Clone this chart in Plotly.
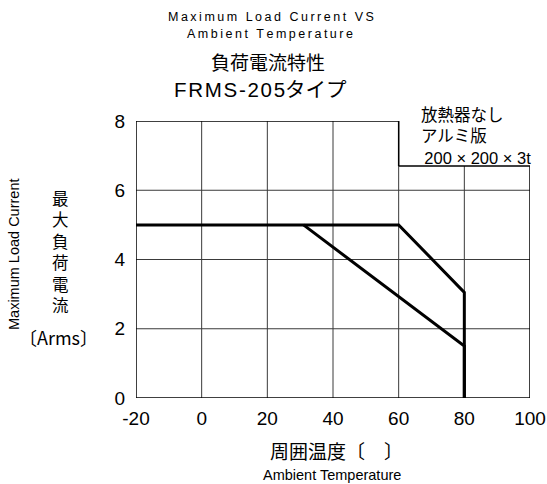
import plotly.graph_objects as go

# ---- data ----
temp_upper = [-20, 60, 80, 80]
load_upper = [5, 5, 3.05, 0]
temp_lower = [31, 80, 80]
load_lower = [5, 1.5, 0]

x_ticks = [-20, 0, 20, 40, 60, 80, 100]
y_ticks = [0, 2, 4, 6, 8]
x_tick_labels = ["-20", "0", "20", "40", "60", "80", "100"]
y_tick_labels = ["0", "2", "4", "6", "8"]

# panel notch (upper-right area of the chart frame is lower)
notch_x = 60
notch_y = 6.7

W, H = 547, 484
L, R, T, B = 136, 17, 121, 86
PW, PH = W - L - R, H - T - B

LAT = "Liberation Sans, Arial, Noto Sans CJK JP, sans-serif"
CJK = "Noto Sans CJK JP, Liberation Sans, sans-serif"


def px(xp):
    return (xp - L) / PW


def py(yp):
    return (H - B - yp) / PH


def spaced(s, sep="\u2009"):
    return sep.join(list(s))


fig = go.Figure()
fig.add_trace(go.Scatter(x=temp_upper, y=load_upper, mode="lines",
                         line=dict(color="black", width=3), cliponaxis=False,
                         showlegend=False, hoverinfo="skip"))
fig.add_trace(go.Scatter(x=temp_lower, y=load_lower, mode="lines",
                         line=dict(color="black", width=3), cliponaxis=False,
                         showlegend=False, hoverinfo="skip"))

shapes = []
xmin, xmax = x_ticks[0], x_ticks[-1]
ymin, ymax = y_ticks[0], y_ticks[-1]
grid = dict(color="#3a3a3a", width=1)
frame = dict(color="black", width=1.5)
for xv in x_ticks[1:-1]:
    top = ymax if xv <= notch_x else notch_y
    shapes.append(dict(type="line", xref="x", yref="y", x0=xv, x1=xv, y0=ymin, y1=top,
                       line=grid, layer="below"))
for yv in y_ticks[1:-1]:
    shapes.append(dict(type="line", xref="x", yref="y", x0=xmin, x1=xmax, y0=yv, y1=yv,
                       line=grid, layer="below"))
# frame
shapes += [
    dict(type="line", xref="x", yref="y", x0=xmin, x1=xmin, y0=ymin, y1=ymax, line=frame),
    dict(type="line", xref="x", yref="y", x0=xmin, x1=xmax, y0=ymin, y1=ymin, line=frame),
    dict(type="line", xref="x", yref="y", x0=xmin, x1=notch_x, y0=ymax, y1=ymax, line=frame),
    dict(type="line", xref="x", yref="y", x0=notch_x, x1=notch_x, y0=notch_y, y1=ymax, line=frame),
    dict(type="line", xref="x", yref="y", x0=notch_x, x1=xmax, y0=notch_y, y1=notch_y, line=frame),
    dict(type="line", xref="x", yref="y", x0=xmax, x1=xmax, y0=ymin, y1=notch_y, line=frame),
]

ann = []


def add_text(text, xp, yp, size, font=LAT, xanchor="center", angle=0, align="center"):
    ann.append(dict(text=text, x=px(xp), y=py(yp), xref="paper", yref="paper",
                    showarrow=False, xanchor=xanchor, yanchor="middle", textangle=angle,
                    align=align, borderpad=0,
                    font=dict(family=font, size=size, color="black")))


# top titles
add_text(spaced("Maximum Load Current VS"), 271, 17, 12.5)
add_text(spaced("Ambient Temperature"), 270, 34, 12.5)
add_text("負荷電流特性", 268, 61, 19, CJK)
add_text(spaced("FRMS-205", "\u200a") + "タイプ", 260, 90, 20.5, LAT)

# upper-right note (one block, three lines)
note = ("放熱器なし<br>アルミ版<br>"
        "<span style='font-family:Liberation Sans, Arial, sans-serif'>\u2009200 × 200 × 3t</span>")
add_text(note, 420, 134, 16.5, CJK, xanchor="left", align="left")

# y title
add_text("Maximum Load Current", 14, 254, 14.5, LAT, angle=-90)
add_text("<br>".join("最大負荷電流"), 60, 251, 16.5, CJK)
add_text("〔Arms〕", 58, 337, 18, CJK)

# x title
add_text("周囲温度〔　〕", 336, 450, 19, CJK)
add_text("Ambient Temperature", 332, 475, 14.5, LAT)

fig.update_layout(
    width=W, height=H,
    margin=dict(l=L, r=R, t=T, b=B, pad=0, autoexpand=False),
    paper_bgcolor="white", plot_bgcolor="white",
    shapes=shapes, annotations=ann, showlegend=False,
    xaxis=dict(range=[xmin, xmax], tickvals=x_ticks, ticktext=x_tick_labels,
               showgrid=False, zeroline=False, showline=False, ticks="",
               ticklabelstandoff=7, automargin=False,
               tickfont=dict(family=LAT, size=19, color="black")),
    yaxis=dict(range=[ymin, ymax], tickvals=y_ticks, ticktext=y_tick_labels,
               showgrid=False, zeroline=False, showline=False, ticks="",
               ticklabelstandoff=10, automargin=False,
               tickfont=dict(family=LAT, size=19, color="black")),
)

fig.write_html(
    "out.html",
    config={"displayModeBar": False},
    post_script="document.body.style.margin='0';document.body.style.overflow='hidden';",
)
